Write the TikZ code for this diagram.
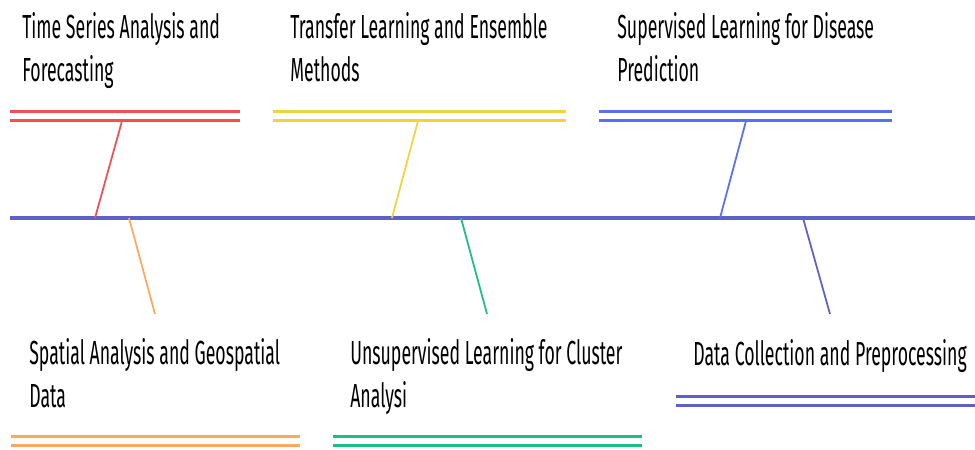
\documentclass[tikz,border=0pt]{standalone}
\usepackage{fontspec}
\setmainfont[FakeStretch=0.53]{Fira Sans}
\definecolor{spine}{RGB}{95,95,200}
\definecolor{fbred}{RGB}{240,80,85}
\definecolor{fbyellow}{RGB}{240,212,60}
\definecolor{fbblue}{RGB}{90,110,240}
\definecolor{fborange}{RGB}{250,170,95}
\definecolor{fbgreen}{RGB}{30,190,130}
\tikzset{
  bar/.style={line width=1.7pt,double=white,double distance=0.13cm},
  bone/.style={line width=1pt},
  cause/.style={inner sep=0pt,align=left,anchor=base west,
    font=\fontsize{19}{24}\selectfont}
}
\begin{document}
\begin{tikzpicture}[x=0.02cm,y=-0.02cm]

\useasboundingbox (0,0) rectangle (975,450);

\draw[line width=1.8pt,spine] (10,218) coordinate (s0) -- (975,218) coordinate (s1);

\node[cause] (t1) at (22,81) {Time Series Analysis and\\Forecasting};
\node[cause] (t2) at (290,81) {Transfer Learning and Ensemble\\Methods};
\node[cause] (t3) at (617,81) {Supervised Learning for Disease\\Prediction};
\node[cause] (b1) at (29,407) {Spatial Analysis and Geospatial\\Data};
\node[cause] (b2) at (350,407) {Unsupervised Learning for Cluster\\Analysi};
\node[cause] (b3) at (693,365) {Data Collection and Preprocessing};

\draw[bar,fbred] (10,116) coordinate (r0) -- (240,116) coordinate (r1);
\draw[bar,fbyellow] (273,116) coordinate (y0) -- (566,116) coordinate (y1);
\draw[bar,fbblue] (599,116) coordinate (u0) -- (892,116) coordinate (u1);
\draw[bar,fborange] (11,441) coordinate (o0) -- (300,441) coordinate (o1);
\draw[bar,fbgreen] (333,441) coordinate (g0) -- (642,441) coordinate (g1);
\draw[bar,spine] (676,401) coordinate (p0) -- (975,401) coordinate (p1);

\coordinate (rt) at (122,121); \coordinate (rb) at (95,218);
\coordinate (yt) at (418,121); \coordinate (yb) at (392,218);
\coordinate (ut) at (746,121); \coordinate (ub) at (720,218);
\coordinate (ot) at (129,218); \coordinate (ob) at (155,314);
\coordinate (gt) at (461,218); \coordinate (gb) at (487,314);
\coordinate (pt) at (803,218); \coordinate (pb) at (830,314);

\draw[bone,fbred] (rt) -- (rb);
\draw[bone,fbyellow] (yt) -- (yb);
\draw[bone,fbblue] (ut) -- (ub);
\draw[bone,fborange] (ot) -- (ob);
\draw[bone,fbgreen] (gt) -- (gb);
\draw[bone,spine] (pt) -- (pb);

\end{tikzpicture}
\end{document}
